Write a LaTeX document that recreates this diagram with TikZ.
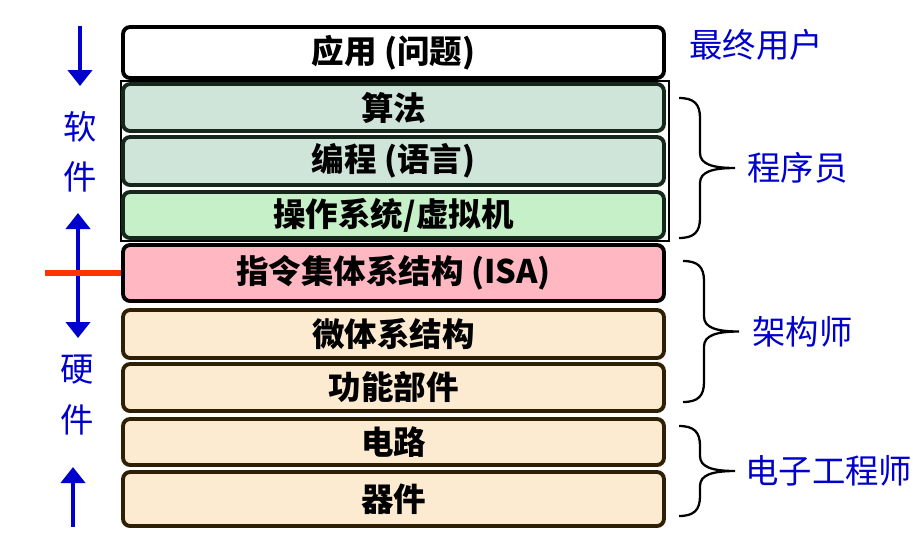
\documentclass[tikz,border=0pt]{standalone}
\usepackage{fontspec}
\newfontfamily\cjk{Noto Sans CJK SC}
\usetikzlibrary{arrows.meta,positioning}
\definecolor{lyBlue}{HTML}{0000CC}
\definecolor{lyRed}{HTML}{FF3300}
\definecolor{lyGray}{HTML}{CFE5D9}
\definecolor{lyLime}{HTML}{C6F0C8}
\definecolor{lyPink}{HTML}{FFB7C2}
\definecolor{lyPeach}{HTML}{FDEBD1}
\definecolor{lyMoss}{HTML}{16281C}
\definecolor{lyBrown}{HTML}{2E1F05}
% curly bracket: name, x, top, bottom
\newcommand\rolebrace[4]{%
  \draw[curl] (#2,#3) .. controls ({#2+15},#3) and ({#2+21},{#3+6}) .. ({#2+21},{#3+20})
    -- ({#2+21},{(#3+#4)/2-15}) .. controls ({#2+21},{(#3+#4)/2-4}) and ({#2+33},{(#3+#4)/2}) .. ({#2+56},{(#3+#4)/2})
    .. controls ({#2+33},{(#3+#4)/2}) and ({#2+21},{(#3+#4)/2+4}) .. ({#2+21},{(#3+#4)/2+15})
    -- ({#2+21},{#4-20}) .. controls ({#2+21},{#4-6}) and ({#2+15},#4) .. (#2,#4);
  \coordinate (#1) at ({#2+56},{(#3+#4)/2});}

\begin{document}
\begin{tikzpicture}[
  x=0.02cm,y=-0.02cm,
  >={Triangle[length=3.2mm,width=4.8mm]},
  layer/.style={draw=black,line width=2.2pt,rounded corners=4pt,minimum width=10.82cm,inner sep=0pt,
    font=\cjk\bfseries\fontsize{18.5}{22}\selectfont},
  who/.style={text=lyBlue,font=\cjk\fontsize{19}{28.5}\selectfont,inner sep=0pt,align=center},
  flow/.style={->,draw=lyBlue,line width=2.3pt},
  cut/.style={draw=lyRed,line width=3.4pt},
  curl/.style={line width=1.3pt}
]
\path[use as bounding box] (0,0) rectangle (915,549);
% layers
\draw[line width=0.8pt] (121,81) rectangle (669,241);
\node[layer,fill=white,minimum height=1.02cm] (app) at (393.5,52.5) {应用 (问题)};
\node[layer,fill=lyGray,draw=lyMoss,minimum height=0.94cm] (algo) at (393.5,107.5) {算法};
\node[layer,fill=lyGray,draw=lyMoss,minimum height=0.96cm] (lang) at (393.5,161) {编程 (语言)};
\node[layer,fill=lyLime,draw=lyMoss,minimum height=0.92cm] (os) at (393.5,215) {操作系统/虚拟机};
\node[layer,fill=lyPink,minimum height=1.12cm] (isa) at (393.5,273) {指令集体系结构 (ISA)};
\node[layer,fill=lyPeach,draw=lyBrown,minimum height=0.96cm] (uarch) at (393.5,334) {微体系结构};
\node[layer,fill=lyPeach,draw=lyBrown,minimum height=0.94cm] (unit) at (393.5,387.5) {功能部件};
\node[layer,fill=lyPeach,draw=lyBrown,minimum height=0.92cm] (circ) at (393.5,442) {电路};
\node[layer,fill=lyPeach,draw=lyBrown,minimum height=1.08cm] (dev) at (393.5,499) {器件};
% left side
\node[who] (soft) at (80,152) {软\\件};
\node[who] (hard) at (77,395) {硬\\件};
\coordinate (swTop) at (80,26);
\coordinate (swEnd) at (80,86);
\coordinate (upEnd) at (78,213);
\coordinate (downEnd) at (78,338);
\coordinate (cutL) at (45,273);
\coordinate (hwBot) at (73,527);
\coordinate (hwEnd) at (73,467);
\draw[flow] (swTop) -- (swEnd);
\draw[flow,<->] (upEnd) -- (downEnd);
\draw[cut] (cutL) -- (isa.west);
\draw[flow] (hwBot) -- (hwEnd);
% right side
\node[who,anchor=west] (user) at (689,45) {最终用户};
\rolebrace{coderTip}{679}{98}{238}
\rolebrace{archTip}{683}{261}{402}
\rolebrace{eeTip}{679}{426}{516}
\node[who,anchor=west,right=0.24cm of coderTip] (coder) {程序员};
\node[who,anchor=west,right=0.26cm of archTip] (arch) {架构师};
\node[who,anchor=west,right=0.2cm of eeTip] (ee) {电子工程师};
\end{tikzpicture}
\end{document}
